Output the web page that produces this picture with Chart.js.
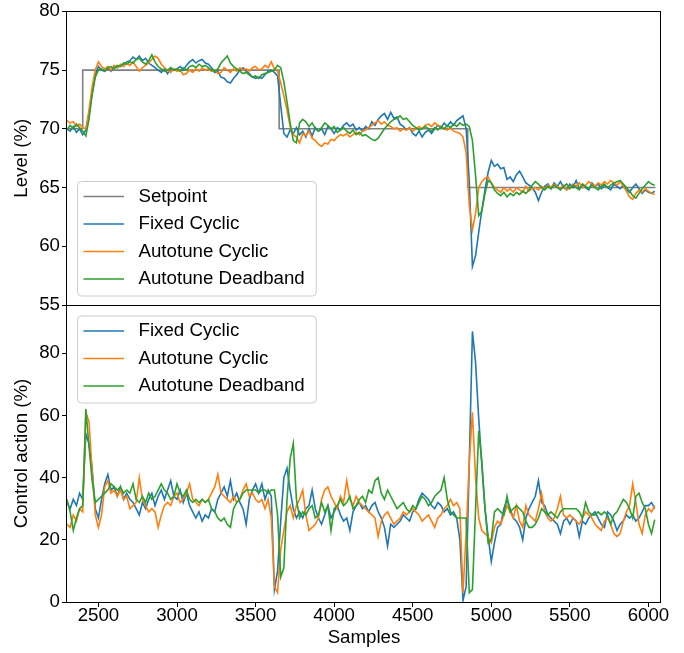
<!DOCTYPE html>
<html><head><meta charset="utf-8">
<script src="https://cdn.jsdelivr.net/npm/chart.js@4.4.1/dist/chart.umd.min.js"></script>
<style>
html,body{margin:0;padding:0;background:#fff;}
#wrap{position:relative;width:684px;height:653px;overflow:hidden;background:#fff;}
#c1{position:absolute;left:0;top:0;}
#c2{position:absolute;left:0;top:290px;}
</style></head><body>
<div id="wrap"><canvas id="c1" width="684" height="320"></canvas><canvas id="c2" width="684" height="363"></canvas></div>
<script>
// ---------------- DATA ----------------
const samples = [
2300,2320,2340,2360,2380,2400,2420,2440,2460,2480,
2500,2520,2540,2560,2580,2600,2620,2640,2660,2680,
2700,2720,2740,2760,2780,2800,2820,2840,2860,2880,
2900,2920,2940,2960,2980,3000,3020,3040,3060,3080,
3100,3120,3140,3160,3180,3200,3220,3240,3260,3280,
3300,3320,3340,3360,3380,3400,3420,3440,3460,3480,
3500,3520,3540,3560,3580,3600,3620,3640,3660,3680,
3700,3720,3740,3760,3780,3800,3820,3840,3860,3880,
3900,3920,3940,3960,3980,4000,4020,4040,4060,4080,
4100,4120,4140,4160,4180,4200,4220,4240,4260,4280,
4300,4320,4340,4360,4380,4400,4420,4440,4460,4480,
4500,4520,4540,4560,4580,4600,4620,4640,4660,4680,
4700,4720,4740,4760,4780,4800,4820,4840,4860,4880,
4900,4920,4940,4960,4980,5000,5020,5040,5060,5080,
5100,5120,5140,5160,5180,5200,5220,5240,5260,5280,
5300,5320,5340,5360,5380,5400,5420,5440,5460,5480,
5500,5520,5540,5560,5580,5600,5620,5640,5660,5680,
5700,5720,5740,5760,5780,5800,5820,5840,5860,5880,
5900,5920,5940,5960,5980,6000,6020,6040];

const setpointSamples = [2300,2400,2400,3650,3650,4850,4850,6045];
const setpoint        = [70,70,75,75,70,70,65,65];

const levelFixed = [
70.0,69.8,70.2,69.7,70.0,69.5,69.9,71.3,73.0,74.6,
75.3,75.0,74.9,75.2,74.9,75.3,75.2,75.4,75.5,75.7,
75.8,76.1,75.9,76.2,75.8,76.0,75.6,75.4,75.2,75.0,
74.8,75.1,74.7,75.2,75.0,75.1,75.3,75.0,75.4,75.7,
75.9,75.6,75.8,75.9,75.6,75.5,75.2,74.8,74.9,74.4,
74.3,74.0,73.9,74.3,74.6,75.0,75.2,74.9,74.7,74.4,
74.3,74.4,74.3,74.6,74.9,75.0,74.8,74.5,72.0,69.6,
69.3,69.9,69.6,70.1,69.5,69.8,69.3,70.0,69.4,70.1,
69.8,70.0,69.5,70.2,70.0,69.6,70.1,69.9,70.3,70.5,
70.2,70.4,69.9,70.1,69.8,70.2,70.0,70.6,70.3,70.8,
71.1,71.3,70.8,71.4,70.9,71.0,70.4,70.2,69.9,70.1,
69.6,69.4,69.8,69.3,69.7,69.9,69.6,70.0,70.3,70.1,
70.5,70.2,70.6,70.3,70.7,70.9,71.1,70.0,65.5,58.3,
59.2,61.2,63.1,64.8,66.3,67.3,66.8,67.0,66.6,66.7,
65.7,65.9,65.5,66.1,66.4,65.9,65.4,65.2,65.0,64.6,
63.9,64.6,65.1,65.3,64.9,65.4,65.1,65.5,65.0,64.8,
65.3,65.0,65.6,64.9,65.2,65.0,64.8,65.4,65.1,65.3,
64.9,65.2,65.0,64.8,65.3,65.1,64.9,65.2,64.8,64.6,
65.0,65.3,64.9,64.5,64.8,64.6,64.5,64.7];

const levelAutoCyclic = [
70.7,70.5,70.6,70.2,70.4,70.1,70.0,71.6,73.6,75.0,
75.7,75.3,75.1,75.3,75.0,75.4,75.2,75.5,75.3,75.6,
75.4,75.7,75.3,74.9,75.2,75.4,75.6,75.9,76.2,76.0,
75.5,75.2,75.0,74.8,75.1,74.9,75.0,74.6,74.7,75.0,
74.8,75.1,74.9,75.2,75.0,75.1,74.9,75.0,74.7,74.8,
75.2,75.0,74.8,75.1,74.9,75.2,75.0,75.1,74.9,75.2,
75.3,75.0,75.1,75.4,75.2,75.7,75.1,74.9,73.9,72.8,
71.6,70.2,69.5,69.3,68.8,69.6,69.4,69.8,69.2,69.0,
68.7,68.5,68.8,68.7,69.1,69.0,69.3,69.5,69.4,69.6,
69.3,69.5,69.7,69.5,69.8,69.9,70.1,70.3,70.5,70.7,
70.4,70.6,70.3,70.2,70.0,70.1,69.8,70.0,69.9,70.1,
69.8,70.0,70.2,70.0,70.3,70.4,70.2,70.5,70.3,70.2,
70.0,69.9,70.1,69.8,69.7,69.6,69.3,68.0,63.5,61.4,
62.8,65.0,65.5,65.8,65.9,65.4,65.0,64.8,64.6,65.0,
64.7,64.9,64.6,65.0,64.8,64.6,65.1,64.7,64.9,65.0,
64.8,65.1,64.9,65.2,65.0,65.3,65.1,64.9,65.2,64.8,
65.0,65.3,65.1,65.4,65.0,65.2,65.5,65.3,65.1,65.4,
65.2,65.5,65.3,65.6,65.4,65.2,65.5,65.1,64.7,64.2,
64.0,64.5,64.8,64.6,64.9,64.7,64.5,64.4];

const levelAutoDeadband = [
69.9,70.3,70.0,70.4,70.1,69.8,69.4,70.8,72.9,74.4,
75.0,75.1,74.9,75.2,75.3,75.1,75.4,75.3,75.6,75.5,
75.7,75.6,75.9,76.0,75.7,75.5,75.8,76.3,75.7,75.3,
75.1,74.9,75.0,75.2,75.0,75.1,74.9,75.2,75.0,75.3,
75.4,75.2,75.5,75.3,75.4,75.2,75.0,74.9,75.1,75.6,
75.9,76.2,75.6,75.3,75.1,74.9,74.7,74.8,74.6,74.4,
74.5,74.3,74.6,74.7,74.8,74.9,75.0,75.4,75.2,74.0,
72.3,70.5,69.0,68.8,70.5,70.8,70.6,70.2,70.5,70.0,
69.8,70.1,70.5,70.3,70.0,70.2,69.7,69.9,70.1,69.8,
69.6,69.9,69.5,69.7,69.4,69.5,69.3,69.1,69.0,69.2,
69.6,70.0,70.3,70.6,70.8,70.9,71.1,70.8,70.9,70.6,
70.3,70.1,69.9,70.0,70.2,70.0,69.8,70.1,69.9,70.2,
70.0,70.3,70.1,70.4,70.2,70.5,70.3,70.4,70.2,69.0,
66.0,62.6,63.0,64.5,65.6,65.4,64.8,64.5,64.3,64.6,
64.2,64.5,64.3,64.6,64.4,64.7,64.5,64.8,65.2,65.5,
65.3,65.0,64.8,65.1,64.9,65.2,65.0,64.8,65.1,65.3,
64.9,65.2,65.0,64.8,65.3,65.1,64.9,65.2,65.0,64.8,
65.1,65.3,65.0,65.2,65.4,65.5,65.6,65.3,65.0,64.7,
64.3,64.1,64.5,64.9,65.2,65.5,65.3,65.2];

const actionFixed = [
32,30,33,31,35,33,54,51,43,30,
27,33,38,41,36,37,34,37,33,35,
33,32,30,28,32,30,33,35,31,34,
36,33,36,39,34,33,36,32,35,31,
29,27,29,26,28,27,30,29,33,35,
37,34,39,33,35,32,30,25,33,36,
38,35,38,33,36,34,4,10,26,40,
43,36,30,27,29,27,30,31,36,30,
27,25,28,31,27,29,31,28,26,27,
23,29,31,32,30,31,29,31,32,29,
27,24,18,25,24,25,26,28,27,26,
29,30,33,35,34,33,31,30,32,31,
29,30,28,29,27,20,0.5,5,45,87,
77,59,44,30,21,13,19,24,25,30,
33,30,27,26,24,20,27,30,32,34,
39,32,31,28,27,26,25,22,26,27,
25,27,26,21,26,25,27,28,29,27,
25,24,29,28,26,23,25,26,28,27,
28,26,27,29,31,31,32,30];

const actionAutoCyclic = [
25,24,28,26,30,29,61,58,42,28,
24,28,37,39,35,36,34,36,33,34,
30,31,32,40,33,31,29,30,29,24,
28,31,32,31,34,35,32,33,35,38,
33,32,31,33,32,33,35,37,41,35,
34,33,32,34,32,33,36,38,34,35,
33,32,33,30,33,27,5,3,17,23,
29,31,27,31,33,36,28,23,24,25,
27,33,36,37,34,32,30,34,32,39,
33,31,34,32,31,30,29,28,27,21,
26,28,29,27,25,26,27,29,28,29,
30,29,28,26,27,28,26,24,27,28,
30,31,33,31,32,30,3,22,45,61,
40,27,23,22,21,19,24,26,25,28,
31,29,27,31,26,24,31,28,27,26,
30,35,29,27,26,27,30,34,28,27,
28,27,26,25,27,29,28,27,25,24,
23,26,27,25,22,21,22,26,29,31,
38,32,25,22,28,30,29,31];

const actionAutoDeadband = [
33,29,23,27,30,31,62,50,39,32,
33,34,35,36,38,37,36,37,35,36,
35,38,33,32,34,32,35,33,34,36,
38,36,35,33,34,38,35,34,36,33,
32,33,32,33,32,33,30,29,27,26,
27,25,24,30,32,33,35,36,36,36,
36,35,36,36,35,36,36,28,8,11,
33,46,51,33,27,29,28,30,31,27,
28,32,29,31,23,30,31,33,31,32,
34,30,31,33,34,32,36,35,39,40,
35,33,36,34,32,30,31,32,30,29,
31,30,32,34,33,31,32,34,35,36,
40,33,29,28,27,27,27,27,3,4,
30,55,45,30,19,20,29,30,29,28,
34,29,30,31,30,29,26,24,24,25,
27,30,29,28,29,28,27,29,30,30,
30,30,30,29,27,32,29,28,28,29,
28,29,28,25,28,29,31,33,32,30,
27,34,35,32,30,25,22,26.5];

const sampleTicks = [2500,3000,3500,4000,4500,5000,5500,6000];
const levelTicks  = [55,60,65,70,75,80];
const actionTicks = [0,20,40,60,80];
const seriesNames = ['Setpoint','Fixed Cyclic','Autotune Cyclic','Autotune Deadband'];
const seriesColors = ['#808080','#1f77b4','#ff7f0e','#2ca02c'];

// ---------------- RENDER ----------------
const FAM = "'Liberation Sans', Arial, Helvetica, sans-serif";
const FS = 18.7;
Chart.defaults.font.family = FAM;
Chart.defaults.color = '#000';

function pts(xs, ys) { return xs.map((x, i) => ({x: x, y: ys[i]})); }
function line(label, xs, ys, color, order) {
  return {label: label, data: pts(xs, ys), borderColor: color, backgroundColor: color,
          borderWidth: 1.6, pointRadius: 0, pointHoverRadius: 0, fill: false, tension: 0, order: order};
}

const framePlugin = {
  id: 'frame',
  afterDraw(chart) {
    const a = chart.chartArea, c = chart.ctx;
    c.save();
    c.strokeStyle = '#000'; c.lineWidth = 1;
    const l = Math.round(a.left) - 0.5, t = Math.round(a.top) + 0.5;
    const r = Math.round(a.right) - 0.5, b = Math.round(a.bottom) + 0.5;
    c.strokeRect(l, t, r - l, b - t);
    c.restore();
  }
};

const mplLegend = {
  id: 'mplLegend',
  afterDatasetsDraw(chart, args, opts) {
    const a = chart.chartArea, c = chart.ctx;
    const ds = chart.data.datasets;
    const n = ds.length, step = 27.5, padT = 15, padB = 17;
    c.save();
    c.font = FS + 'px ' + FAM;
    let maxW = 0;
    ds.forEach(d => { maxW = Math.max(maxW, c.measureText(d.label).width); });
    const w = 61 + maxW + 11.5;
    const h = padT + (n - 1) * step + padB;
    const x0 = a.left + opts.dx;
    const y0 = opts.anchor === 'bottom' ? a.bottom - opts.dy - h : a.top + opts.dy;
    const rr = 4;
    c.beginPath();
    c.moveTo(x0 + rr, y0);
    c.lineTo(x0 + w - rr, y0); c.arcTo(x0 + w, y0, x0 + w, y0 + rr, rr);
    c.lineTo(x0 + w, y0 + h - rr); c.arcTo(x0 + w, y0 + h, x0 + w - rr, y0 + h, rr);
    c.lineTo(x0 + rr, y0 + h); c.arcTo(x0, y0 + h, x0, y0 + h - rr, rr);
    c.lineTo(x0, y0 + rr); c.arcTo(x0, y0, x0 + rr, y0, rr);
    c.closePath();
    c.fillStyle = 'rgba(255,255,255,0.8)'; c.fill();
    c.strokeStyle = '#cccccc'; c.lineWidth = 1; c.stroke();
    ds.forEach((d, i) => {
      const y = y0 + padT + i * step;
      c.beginPath(); c.strokeStyle = d.borderColor; c.lineWidth = 1.6;
      c.moveTo(x0 + 6, y); c.lineTo(x0 + 46.5, y); c.stroke();
      c.fillStyle = '#000'; c.textBaseline = 'middle'; c.textAlign = 'left';
      c.fillText(d.label, x0 + 61, y);
    });
    c.restore();
  }
};

const tickFont = {family: FAM, size: FS, lineHeight: 1};
const titleFont = {family: FAM, size: FS, lineHeight: 1.2};
const xMin = 2300, xMax = 6080;

function yScale(min, max, ticks, title) {
  return {
    type: 'linear', min: min, max: max,
    afterFit(s) { s.width = 67; },
    afterBuildTicks(s) { s.ticks = ticks.map(v => ({value: v})); },
    ticks: {font: tickFont, color: '#000', padding: 2, callback: v => String(v)},
    grid: {drawOnChartArea: false, drawTicks: true, tickLength: 5, color: '#000', lineWidth: 1},
    border: {display: false},
    title: {display: true, text: title, font: titleFont, color: '#000', padding: {top: 11, bottom: 0}}
  };
}

new Chart(document.getElementById('c1'), {
  type: 'line',
  data: {datasets: [
    line(seriesNames[0], setpointSamples, setpoint, seriesColors[0], 4),
    line(seriesNames[1], samples, levelFixed, seriesColors[1], 3),
    line(seriesNames[2], samples, levelAutoCyclic, seriesColors[2], 2),
    line(seriesNames[3], samples, levelAutoDeadband, seriesColors[3], 1)
  ]},
  options: {
    responsive: false, animation: false, devicePixelRatio: 1,
    layout: {padding: {left: 0, right: 23, top: 10, bottom: 15}},
    scales: {
      x: {type: 'linear', min: xMin, max: xMax, display: false},
      y: yScale(55, 80, levelTicks, 'Level (%)')
    },
    plugins: {legend: {display: false}, tooltip: {enabled: false},
              mplLegend: {anchor: 'bottom', dx: 10.5, dy: 9}}
  },
  plugins: [framePlugin, mplLegend]
});

new Chart(document.getElementById('c2'), {
  type: 'line',
  data: {datasets: [
    line(seriesNames[1], samples, actionFixed, seriesColors[1], 3),
    line(seriesNames[2], samples, actionAutoCyclic, seriesColors[2], 2),
    line(seriesNames[3], samples, actionAutoDeadband, seriesColors[3], 1)
  ]},
  options: {
    responsive: false, animation: false, devicePixelRatio: 1,
    layout: {padding: {left: 0, right: 23, top: 15, bottom: 0}},
    scales: {
      x: {
        type: 'linear', min: xMin, max: xMax,
        afterFit(s) { s.height = 51; },
        afterBuildTicks(s) { s.ticks = sampleTicks.map(v => ({value: v})); },
        ticks: {font: tickFont, color: '#000', padding: 0, maxRotation: 0, autoSkip: false, callback: v => String(v)},
        grid: {drawOnChartArea: false, drawTicks: true, tickLength: 5, color: '#000', lineWidth: 1},
        border: {display: false},
        title: {display: true, text: 'Samples', font: titleFont, color: '#000', padding: {top: 0, bottom: 4}}
      },
      y: yScale(0, 95.5, actionTicks, 'Control action (%)')
    },
    plugins: {legend: {display: false}, tooltip: {enabled: false},
              mplLegend: {anchor: 'top', dx: 10.5, dy: 11}}
  },
  plugins: [framePlugin, mplLegend]
});
</script>
</body></html>
